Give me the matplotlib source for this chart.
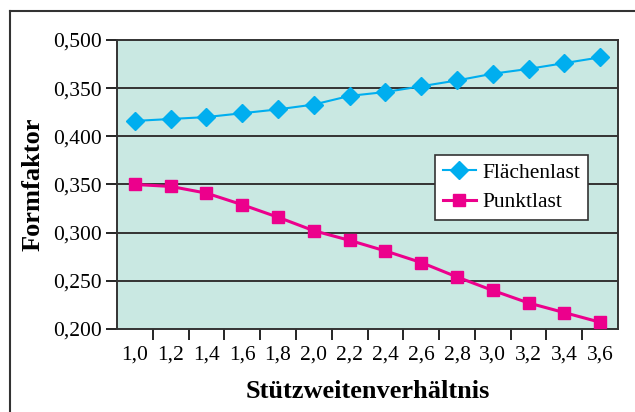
import matplotlib.pyplot as plt
from matplotlib.lines import Line2D

# Data
ratios = ["1,0", "1,2", "1,4", "1,6", "1,8", "2,0", "2,2", "2,4", "2,6", "2,8", "3,0", "3,2", "3,4", "3,6"]
flaechenlast = [0.416, 0.418, 0.420, 0.424, 0.428, 0.433, 0.442, 0.446, 0.452, 0.458, 0.465, 0.470, 0.476, 0.482]
punktlast = [0.350, 0.348, 0.341, 0.329, 0.316, 0.302, 0.292, 0.281, 0.269, 0.254, 0.240, 0.227, 0.217, 0.207]
y_ticks = [0.200, 0.250, 0.300, 0.350, 0.400, 0.450, 0.500]
y_labels = ["0,200", "0,250", "0,300", "0,350", "0,400", "0,350", "0,500"]  # as printed in the original

plt.rcParams['font.family'] = ['Liberation Serif', 'DejaVu Serif']

blue = '#00AEEF'
pink = '#EC008C'

fig = plt.figure(figsize=(6.35, 4.12), dpi=100)
ax = fig.add_axes([0.1843, 0.2015, 0.7890, 0.7014])
ax.set_facecolor('#C9E8E2')

x = list(range(len(ratios)))
ax.plot(x, flaechenlast, color=blue, lw=1.5, marker='D', markersize=9, label='Flächenlast', zorder=3)
ax.plot(x, punktlast, color=pink, lw=2.2, marker='s', markersize=9, label='Punktlast', zorder=3)

ax.set_xlim(-0.5, len(ratios) - 0.5)
ax.set_ylim(0.2, 0.5)

# category labels centred, tick marks on the boundaries
ax.set_xticks(x)
ax.set_xticklabels(ratios, fontsize=15.5)
ax.tick_params(axis='x', which='major', length=0, pad=12)
ax.set_xticks([i + 0.5 for i in x[:-1]], minor=True)
ax.tick_params(axis='x', which='minor', length=8, width=1.2, direction='out')

ax.set_yticks(y_ticks)
ax.set_yticklabels(y_labels, fontsize=15.5)
ax.tick_params(axis='y', length=8, width=1.2, pad=3)

for yv in y_ticks[1:-1]:
    ax.axhline(yv, color='#333333', lw=1.4, zorder=1)
for s in ax.spines.values():
    s.set_linewidth(1.4)
    s.set_color('#333333')

ax.set_xlabel('Stützweitenverhältnis', fontsize=19, fontweight='bold', labelpad=11)
ax.set_ylabel('Formfaktor', fontsize=19, fontweight='bold', labelpad=6)

handles = [Line2D([], [], color=blue, lw=1.5, marker='D', markersize=9),
           Line2D([], [], color=pink, lw=2.2, marker='s', markersize=9)]
leg = ax.legend(handles, ['Flächenlast', 'Punktlast'], loc='upper left',
                bbox_to_anchor=(0.635, 0.602), fontsize=15.5, fancybox=False,
                framealpha=1, edgecolor='#333333', borderpad=0.35, handlelength=1.55,
                handletextpad=0.3, labelspacing=0.45, borderaxespad=0)
leg.get_frame().set_linewidth(1.2)

# outer frame (top and left edges visible)
fig.add_artist(Line2D([10 / 635, 1.0], [1 - 11 / 412, 1 - 11 / 412], transform=fig.transFigure, color='#333333', lw=1.5))
fig.add_artist(Line2D([10 / 635, 10 / 635], [0.0, 1 - 11 / 412], transform=fig.transFigure, color='#333333', lw=1.5))

fig.savefig('out.png', dpi=100)
